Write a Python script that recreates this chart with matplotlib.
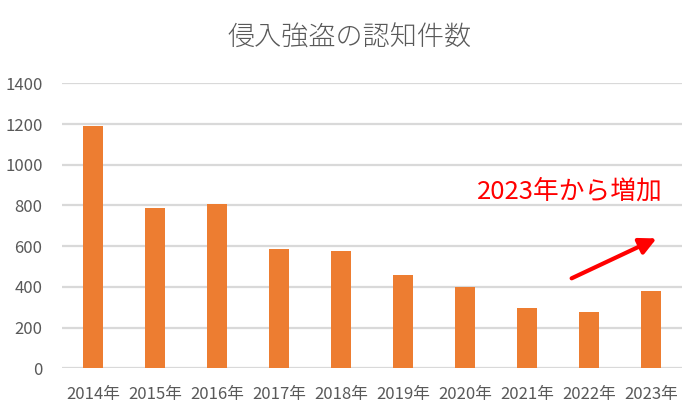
import matplotlib
matplotlib.use("Agg")
import matplotlib.pyplot as plt

plt.rcParams['font.family'] = ['Noto Sans CJK JP', 'DejaVu Sans']

years = ["2014年", "2015年", "2016年", "2017年", "2018年", "2019年", "2020年", "2021年", "2022年", "2023年"]
counts = [1190, 787, 807, 586, 576, 458, 401, 295, 275, 381]
yticks = [0, 200, 400, 600, 800, 1000, 1200, 1400]
title = "侵入強盗の認知件数"
note = "2023年から増加"

fig = plt.figure(figsize=(7, 4.19), dpi=100)
ax = fig.add_axes([62/700, (419-368.3)/419, 620/700, 285/419])

x = list(range(len(years)))
ax.bar(x, counts, width=0.32, color="#ED7D31", zorder=3)
ax.set_xlim(-0.5, len(years) - 0.5)
ax.set_ylim(0, 1400)
ax.set_yticks(yticks)
ax.set_yticklabels([str(v) for v in yticks])
ax.set_xticks(x)
ax.set_xticklabels(years)
ax.tick_params(axis='both', length=0, colors="#595959", labelsize=12)
ax.tick_params(axis='y', pad=14)
ax.tick_params(axis='x', pad=13)
ax.grid(axis='y', color="#d9d9d9", linewidth=1.6, zorder=0)
for s in ax.spines.values():
    s.set_visible(False)

fig.text(0.5, 1 - 38/419, title, ha='center', va='center', fontsize=19.5, color="#595959",
         fontweight='light')

ax.annotate("", xy=(9.09, 638), xytext=(7.72, 442),
            arrowprops=dict(arrowstyle="-|>,head_length=1.0,head_width=0.5", color="red", lw=3,
                            shrinkA=0, shrinkB=0))
ax.text(7.69, 866, note, ha='center', va='center', fontsize=18.5, color="red")

fig.savefig("out.png", dpi=100)
